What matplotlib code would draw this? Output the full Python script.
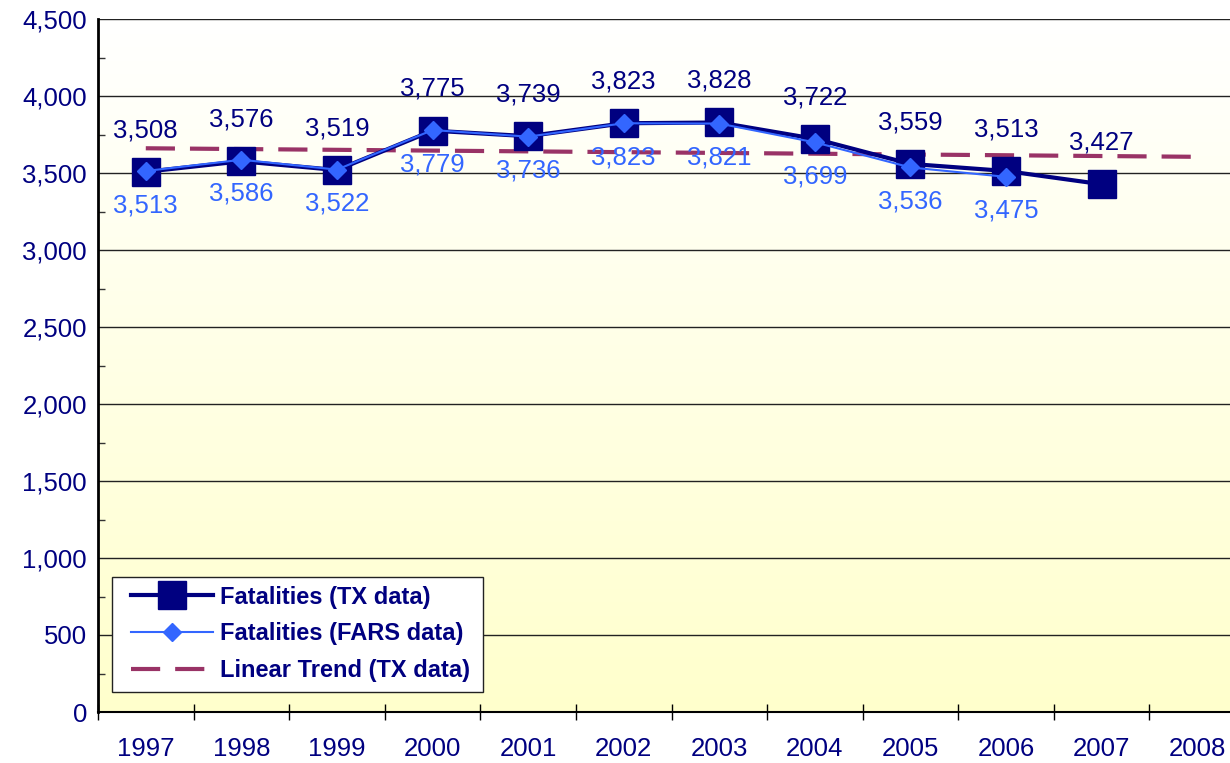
import matplotlib
matplotlib.use("Agg")
import matplotlib.pyplot as plt
import numpy as np
from matplotlib.patches import Rectangle
from matplotlib.lines import Line2D
from matplotlib.colors import LinearSegmentedColormap
from matplotlib.ticker import FuncFormatter, MultipleLocator, FixedLocator

years = ["1997", "1998", "1999", "2000", "2001", "2002", "2003", "2004",
         "2005", "2006", "2007", "2008"]
tx_data = [3508, 3576, 3519, 3775, 3739, 3823, 3828, 3722, 3559, 3513, 3427]
fars_data = [3513, 3586, 3522, 3779, 3736, 3823, 3821, 3699, 3536, 3475]

NAVY = "#000080"
BLUE = "#3366FF"
PLUM = "#993366"

plt.rcParams['font.family'] = ['Liberation Sans', 'DejaVu Sans']

fig = plt.figure(figsize=(12.3, 7.63), dpi=100)
W, H = 1230, 763
ax = fig.add_axes([98 / W, 1 - 712 / H, (1245 - 98) / W, (712 - 19) / H])

# gradient background
grad = np.linspace(0, 1, 256).reshape(-1, 1)
cmap = LinearSegmentedColormap.from_list("bg", ["#FFFFFF", "#FFFFCC"])
ax.imshow(grad, extent=[0, 1, 0, 1], transform=ax.transAxes, cmap=cmap,
          aspect="auto", zorder=0, origin="upper")

x_tx = np.arange(len(tx_data))
x_fars = np.arange(len(fars_data))

# linear trend of TX data over all years
coef = np.polyfit(x_tx, tx_data, 1)
x_tr = np.array([0, len(years) - 1])
trend = np.polyval(coef, x_tr)

ax.plot(x_tr, trend, color=PLUM, lw=3, dashes=(7, 3.6), zorder=3,
        solid_capstyle="butt", dash_capstyle="butt")
ax.plot(x_tx, tx_data, color=NAVY, lw=3, marker="s", ms=19.5, zorder=4)
ax.plot(x_fars, fars_data, color=BLUE, lw=1.5, marker="D", ms=9, zorder=5)

for xi, v in zip(x_tx, tx_data):
    ax.annotate(f"{v:,}", (xi, v), xytext=(0, 30), textcoords="offset points",
                ha="center", va="center", fontsize=18.5, color=NAVY, zorder=6)
for xi, v in zip(x_fars, fars_data):
    ax.annotate(f"{v:,}", (xi, v), xytext=(0, -24.5), textcoords="offset points",
                ha="center", va="center", fontsize=18.5, color=BLUE, zorder=6)

ax.set_xlim(-0.5, len(years) - 0.5)
ax.set_ylim(0, 4500)

ax.yaxis.set_major_locator(MultipleLocator(500))
ax.yaxis.set_minor_locator(MultipleLocator(250))
ax.yaxis.set_major_formatter(FuncFormatter(lambda v, p: f"{int(v):,}"))
ax.grid(axis="y", which="major", color="#222222", lw=1.0, zorder=1)
ax.set_axisbelow(True)
ax.tick_params(axis="y", which="major", length=0, pad=8, labelsize=18.5,
               labelcolor=NAVY)
ax.tick_params(axis="y", which="minor", length=5, direction="in", width=1,
               color="#333333")

ax.xaxis.set_major_locator(FixedLocator(np.arange(-0.5, len(years), 1.0)))
ax.xaxis.set_minor_locator(FixedLocator(np.arange(len(years))))
ax.set_xticklabels([], minor=False)
ax.set_xticklabels(years, minor=True)
ax.tick_params(axis="x", which="major", length=11, direction="inout", width=1,
               color="black")
ax.tick_params(axis="x", which="minor", length=0, pad=18, labelsize=18.5,
               labelcolor=NAVY)

for s in ["top", "right"]:
    ax.spines[s].set_visible(False)
ax.spines["left"].set_linewidth(2)
ax.spines["bottom"].set_linewidth(1.5)
ax.spines["left"].set_color("black")
ax.spines["bottom"].set_color("black")

# legend with manual frame
rect = Rectangle((112 / W, 1 - 692 / H), (483 - 112) / W, (692 - 577) / H,
                 transform=fig.transFigure, facecolor="white",
                 edgecolor="#222222", lw=1, zorder=7)
ax.add_patch(rect)
rect.set_clip_on(False)

handles = [
    Line2D([], [], color=NAVY, lw=3, marker="s", ms=19.5),
    Line2D([], [], color=BLUE, lw=1.5, marker="D", ms=9),
    Line2D([], [], color=PLUM, lw=3, dashes=(7, 3.6)),
]
labels = ["Fatalities (TX data)", "Fatalities (FARS data)", "Linear Trend (TX data)"]
leg = ax.legend(handles, labels, loc="upper left",
                bbox_to_anchor=(126 / W, 1 - 581 / H),
                bbox_transform=fig.transFigure, frameon=False,
                prop={"size": 17, "weight": "bold"}, labelcolor=NAVY,
                handlelength=3.5, handletextpad=0.3, labelspacing=0.58,
                borderpad=0.2, borderaxespad=0)
leg.set_zorder(8)

fig.savefig("out.png", dpi=100)
